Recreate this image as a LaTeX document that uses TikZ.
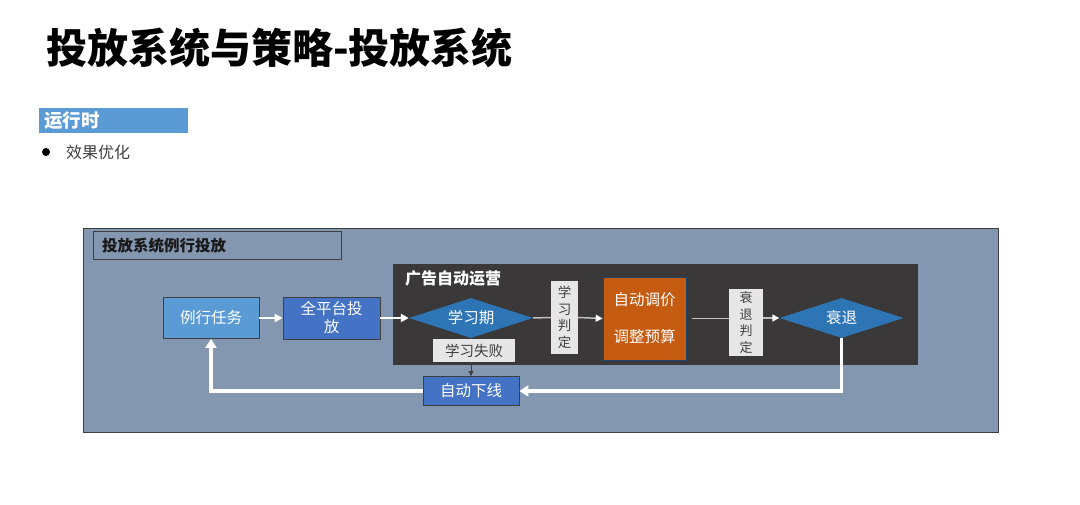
\documentclass[tikz,border=0pt]{standalone}
\usepackage{fontspec}
\setmainfont{Noto Sans CJK SC}
\usetikzlibrary{arrows.meta,shapes.geometric}
\definecolor{slate}{HTML}{8497B0}
\definecolor{darkbg}{HTML}{3A3838}
\definecolor{lblue}{HTML}{5B9BD5}
\definecolor{mblue}{HTML}{4472C4}
\definecolor{dblue}{HTML}{2E75B6}
\definecolor{orng}{HTML}{C55A11}
\definecolor{lgray}{HTML}{E7E6E6}
\definecolor{edge}{HTML}{3F3F3F}
\definecolor{txtgray}{HTML}{404040}
\definecolor{connline}{HTML}{C0C0C0}
\begin{document}
\begin{tikzpicture}[x=1pt,y=-1pt,
  area/.style={rectangle, inner sep=0, outer sep=0, anchor=north west},
  fbox/.style={rectangle, inner sep=0, draw=edge, line width=0.8pt, text=white, font=\fontsize{15.5}{18}\selectfont, align=center},
  dia/.style={diamond, inner sep=0, fill=dblue, minimum width=124, minimum height=40, aspect=3, text=white, font=\fontsize{15.5}{18}\selectfont},
  judge/.style={rectangle, inner sep=0, fill=lgray, text=txtgray, align=center, font=\fontsize{13.5}{16.5}\selectfont},
  wline/.style={white, line width=2pt, -{Triangle[length=8pt,width=8pt]}},
  loopline/.style={white, line width=3.5pt, -{Triangle[length=9pt,width=11pt]}},
  gline/.style={connline, line width=1.5pt},
  garrow/.style={connline, line width=1.5pt, -{Triangle[length=7pt,width=7pt,color=white,fill=white]}},
  dline/.style={edge, line width=1pt, -{Triangle[length=5pt,width=5pt]}}
]
\useasboundingbox (0,0) rectangle (1080,505);
\fill[white] (0,0) rectangle (1080,505);

% title
\node[anchor=west, inner sep=0, font=\fontsize{41}{44}\selectfont\bfseries] (title) at (46,48) {投放系统与策略-投放系统};

% section bar
\node[area, fill=lblue, minimum width=149, minimum height=25] (bar) at (39,108) {};
\node[anchor=west, inner sep=0, text=white, font=\fontsize{18.5}{20}\selectfont\bfseries] (bartext) at (44,120.5) {运行时};

% bullet
\node[circle, fill=black, minimum size=8, inner sep=0] (bullet) at (46,152) {};
\node[anchor=west, inner sep=0, text=txtgray, font=\fontsize{16}{18}\selectfont] (b1) at (66,152) {效果优化};

% panel
\node[area, fill=slate, draw=edge, line width=0.8pt, minimum width=915, minimum height=204] (panel) at (83,228) {};
\node[area, draw=edge, line width=1pt, minimum width=248, minimum height=28] (ptitlebox) at (93,232) {};
\node[anchor=west, inner sep=0, text=black!90, font=\fontsize{15.5}{18}\selectfont\bfseries] (ptitle) at (102,246) {投放系统例行投放};

% dark area
\node[area, fill=darkbg, minimum width=525, minimum height=101] (auto) at (393,264) {};
\node[anchor=west, inner sep=0, text=white, font=\fontsize{16}{18}\selectfont\bfseries] (autotitle) at (405,278) {广告自动运营};

% boxes
\node[fbox, fill=lblue, minimum width=96, minimum height=41] (task) at (211,318) {例行任务};
\node[fbox, fill=mblue, minimum width=97, minimum height=42] (platform) at (331.5,318) {全平台投\\放};
\node[dia] (learn) at (471,318) {学习期};
\node[rectangle, inner sep=0, fill=lgray, text=txtgray, font=\fontsize{14.5}{16}\selectfont, minimum width=82, minimum height=23] (fail) at (474,350.5) {学习失败};
\node[fbox, fill=mblue, minimum width=96, minimum height=29] (offline) at (471,391) {自动下线};
\node[judge, minimum width=27, minimum height=73] (judge1) at (564.5,317.5) {学\\习\\判\\定};
\node[rectangle, inner sep=0, fill=orng, draw=dblue!60!black, line width=0.6pt, text=white, align=center, font=\fontsize{15.5}{37}\selectfont, minimum width=83, minimum height=83] (adjust) at (644.5,318.5) {自动调价\\调整预算};
\node[judge, font=\fontsize{13}{16.5}\selectfont, minimum width=34, minimum height=67] (judge2) at (746,322.5) {衰\\退\\判\\定};
\node[dia] (decline) at (841.5,318) {衰退};

% connectors
\draw[wline] (task) -- (platform);
\draw[wline] (platform) -- (learn.west);
\draw[gline] (learn.east) -- (judge1.west);
\draw[garrow] (judge1.east) -- (adjust.west);
\draw[gline] ([xshift=6pt]adjust.east) -- (judge2.west |- adjust.east);
\draw[garrow] (judge2.east |- decline.west) -- (decline.west);
\draw[dline] (offline.north |- fail.south) -- (offline.north);
\draw[loopline] (decline.south) |- (offline.east);
\draw[loopline] (offline.west) -| (task.south);
\end{tikzpicture}
\end{document}
